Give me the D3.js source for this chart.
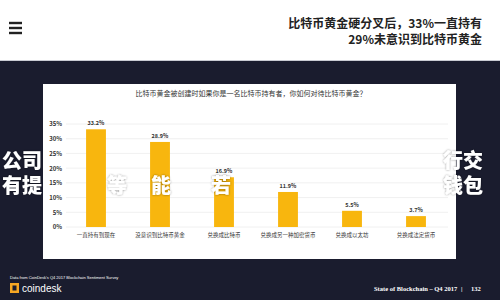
<!DOCTYPE html>
<html><head><meta charset="utf-8">
<script src="https://cdn.jsdelivr.net/npm/d3@7"></script>
<style>html,body{margin:0;padding:0;background:#fff;}svg{display:block;}</style>
</head><body>
<svg id="c" width="500" height="300"></svg>
<script>
const categories = ["一直持有到现在","没意识到比特币黄金","兑换成比特币","兑换成另一种加密货币","兑换成以太坊","兑换成法定货币"];
const values = [33.2, 28.9, 16.9, 11.9, 5.5, 3.7];
const yTicks = [0,5,10,15,20,25,30,35];
const chartTitle = "比特币黄金被创建时如果你是一名比特币持有者，你如何对待比特币黄金？";
const headline = ["比特币黄金硬分叉后，33%一直持有","29%未意识到比特币黄金"];
const overlayRow1 = [["公司",2],["行交",443]];
const overlayRow2 = [["有提",2],["等",107],["能",151],["若",211],["钱包",443]];

const svg = d3.select("#c");
const font = "'Noto Sans CJK SC', 'Noto Sans', sans-serif";

const defs = svg.append("defs");
const f = defs.append("filter").attr("id","sh").attr("x","-20%").attr("y","-20%").attr("width","140%").attr("height","140%");
f.append("feDropShadow").attr("dx",0).attr("dy",0).attr("stdDeviation",0.8).attr("flood-color","#000").attr("flood-opacity",0.45);

// header
svg.append("rect").attr("x",0).attr("y",0).attr("width",500).attr("height",60).attr("fill","#fff");
[23,28,33].forEach(y=>svg.append("rect").attr("x",9).attr("y",y-1.2).attr("width",13).attr("height",2.4).attr("fill","#222"));
svg.selectAll("text.hl").data(headline).join("text").attr("class","hl")
  .attr("x",482).attr("y",(d,i)=>28+i*16).attr("text-anchor","end")
  .attr("font-family",font).attr("font-weight",700).attr("font-size",12).attr("fill","#222").text(d=>d);

// dark background
svg.append("rect").attr("x",0).attr("y",60).attr("width",500).attr("height",240).attr("fill","#1a1c2e");
svg.append("rect").attr("x",0).attr("y",60).attr("width",500).attr("height",1).attr("fill","#c9cbd2");

// panel
svg.append("rect").attr("x",43).attr("y",84).attr("width",413).attr("height",175).attr("fill","#fff");

const x = d3.scaleBand().domain(categories).range([64,448]).paddingInner(0.69).paddingOuter(0.345);
const y = d3.scaleLinear().domain([0,35]).range([227,124]);

// grid
svg.append("g").selectAll("line").data(yTicks).join("line")
  .attr("x1",66).attr("x2",448).attr("y1",d=>y(d)).attr("y2",d=>y(d))
  .attr("stroke","#ececec").attr("stroke-width",0.8);

const yAxis = d3.axisLeft(y).tickValues(yTicks).tickFormat(d=>d+"%").tickSize(0).tickPadding(0);
const ya = svg.append("g").attr("transform","translate(62,0)").call(yAxis);
ya.select(".domain").remove();
ya.selectAll("text").attr("font-family",font).attr("font-size",6).attr("font-weight",700).attr("fill","#333");

// bars
svg.selectAll("rect.bar").data(values).join("rect").attr("class","bar")
  .attr("x",(d,i)=>x(categories[i])).attr("width",x.bandwidth())
  .attr("y",d=>y(d)).attr("height",d=>y(0)-y(d)).attr("fill","#f8b60e");

svg.selectAll("text.val").data(values).join("text").attr("class","val")
  .attr("x",(d,i)=>x(categories[i])+x.bandwidth()/2).attr("y",d=>y(d)-4)
  .attr("text-anchor","middle").attr("font-family",font).attr("font-size",5.5).attr("font-weight",700).attr("fill","#333")
  .text(d=>d+"%");

const xAxis = d3.axisBottom(x).tickSize(0).tickPadding(0);
const xa = svg.append("g").attr("transform","translate(0,233)").call(xAxis);
xa.select(".domain").remove();
xa.selectAll("text").attr("font-family",font).attr("font-size",5.5).attr("fill","#333");

svg.append("text").attr("x",251).attr("y",96).attr("text-anchor","middle")
  .attr("font-family",font).attr("font-size",7).attr("fill","#333").text(chartTitle);

// overlay big white text
function overlay(row, yy){
  svg.append("g").attr("filter","url(#sh)").selectAll("text").data(row).join("text")
    .attr("x",d=>d[1]).attr("y",yy).attr("font-family","'Noto Sans CJK SC', sans-serif")
    .attr("font-weight",900).attr("font-size",20).attr("fill","#fff").text(d=>d[0]);
}
overlay(overlayRow1,168);
overlay(overlayRow2,193);

// footer
svg.append("text").attr("x",10).attr("y",279).attr("font-family","'Liberation Sans', sans-serif")
  .attr("font-size",4).attr("fill","#fff").text("Data from CoinDesk's Q4 2017 Blockchain Sentiment Survey");
svg.append("rect").attr("x",10).attr("y",283).attr("width",9).attr("height",10).attr("fill","#f5a623");
svg.append("rect").attr("x",12.5).attr("y",285.5).attr("width",4).attr("height",5).attr("fill","#1a1c2e");
svg.append("text").attr("x",22).attr("y",292).attr("font-family","'Liberation Sans', sans-serif")
  .attr("font-size",10).attr("fill","#fff").text("coindesk");
const foot = svg.append("g").attr("font-family","'Liberation Serif', serif").attr("font-size",6.5).attr("font-weight",700).attr("fill","#fff");
foot.append("text").attr("x",374).attr("y",291).text("State of Blockchain – Q4 2017");
foot.append("text").attr("x",461).attr("y",291).text("|");
foot.append("text").attr("x",471).attr("y",291).text("132");
</script>
</body></html>
